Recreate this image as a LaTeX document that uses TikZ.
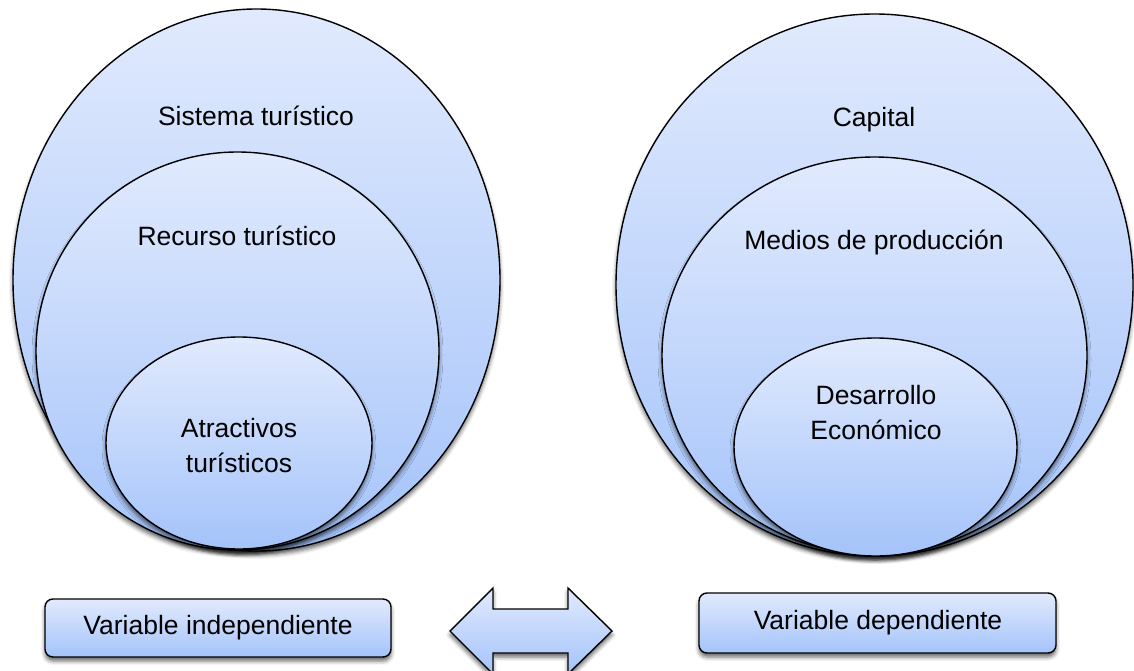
\documentclass[tikz,border=0pt]{standalone}
\usepackage{fontspec}
\setmainfont{Liberation Sans}
\usetikzlibrary{shapes.geometric,shadows.blur}
\definecolor{topc}{RGB}{225,234,253}
\definecolor{botc}{RGB}{164,195,250}
\begin{document}
\begin{tikzpicture}[x=1pt,y=-1pt,
  shadowed/.style={blur shadow={shadow xshift=0pt, shadow yshift=-4pt, shadow blur radius=4pt, shadow opacity=60}},
  shape3d/.style={draw=black, line width=1.4pt, top color=topc, bottom color=botc, shadowed},
  ell/.style={shape3d, ellipse, inner sep=0pt},
  varbox/.style={shape3d, rectangle, rounded corners=8pt, inner sep=0pt},
  lbl/.style={font=\fontsize{26.5}{35}\selectfont, align=center, inner sep=0pt}]
\useasboundingbox (0,0) rectangle (1134,671);
% left group
\node[ell, minimum width=487, minimum height=542] (sys) at (256.5,280) {};
\node[ell, minimum width=403, minimum height=398] (rec) at (237.5,351) {};
\node[ell, minimum width=266, minimum height=212] (atr) at (239,443) {};
\node[lbl] (tsys) at (256,116) {Sistema turístico};
\node[lbl] (trec) at (237,236) {Recurso turístico};
\node[lbl] (tatr) at (239,446) {Atractivos\\turísticos};
% right group
\node[ell, minimum width=517, minimum height=542] (cap) at (874.5,285) {};
\node[ell, minimum width=425, minimum height=397] (med) at (874.5,355.5) {};
\node[ell, minimum width=283, minimum height=218] (des) at (875.5,447) {};
\node[lbl] (tcap) at (874,120) {Capital};
\node[lbl] (tmed) at (874,242) {Medios de producción};
\node[lbl] (tdes) at (876,413) {Desarrollo\\Económico};
% boxes
\node[varbox, minimum width=346, minimum height=58] (vind) at (218,628) {};
\node[lbl] (tvind) at (218,628) {Variable independiente};
\node[varbox, minimum width=357, minimum height=60] (vdep) at (877.5,623) {};
\node[lbl] (tvdep) at (878,623) {Variable dependiente};
% double arrow
\path[draw=black, line width=1.4pt, top color=topc, bottom color=botc, shadowed]
  (450,631) -- (493,588) -- (493,609) -- (568,609) -- (568,588) -- (612,631)
  -- (568,674) -- (568,653) -- (493,653) -- (493,674) -- cycle;
\end{tikzpicture}
\end{document}
